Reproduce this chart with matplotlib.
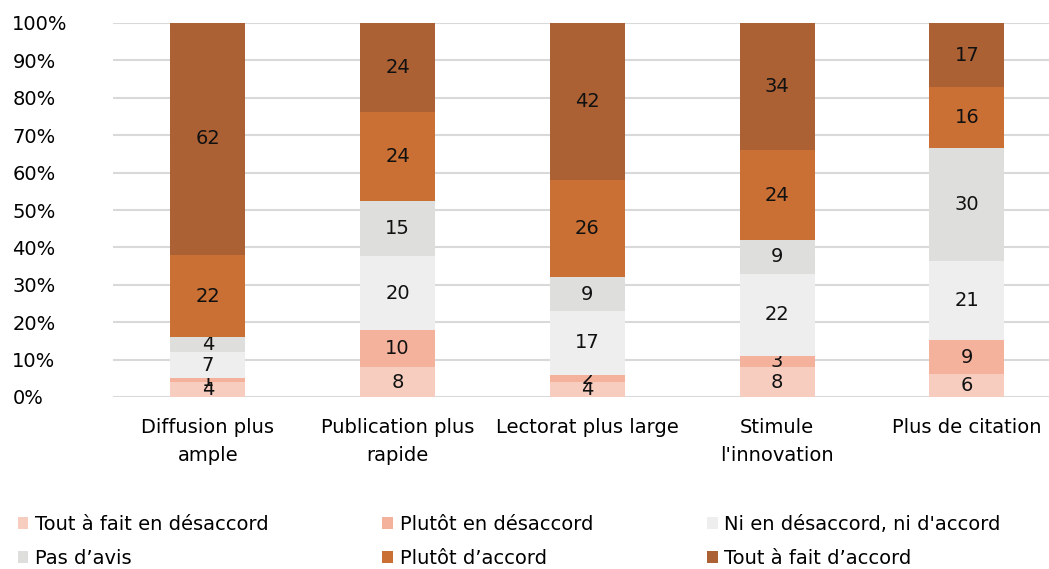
import numpy as np
import matplotlib.pyplot as plt

plt.rcParams['font.family'] = ['DejaVu Sans']

CATEGORIES = ['Diffusion plus\nample', 'Publication plus\nrapide', 'Lectorat plus large',
              'Stimule\nl\'innovation', 'Plus de citation']
SERIES = ['Tout à fait en désaccord', 'Plutôt en désaccord', "Ni en désaccord, ni d'accord",
          'Pas d’avis', 'Plutôt d’accord', 'Tout à fait d’accord']
COLORS = ['#F7CDC0', '#F4B29C', '#EEEEEE', '#DEDEDC', '#CA7034', '#AC6135']

tout_desaccord = [4, 8, 4, 8, 6]
plutot_desaccord = [1, 10, 2, 3, 9]
ni_ni = [7, 20, 17, 22, 21]
pas_avis = [4, 15, 9, 9, 30]
plutot_accord = [22, 24, 26, 24, 16]
tout_accord = [62, 24, 42, 34, 17]

values = np.array([tout_desaccord, plutot_desaccord, ni_ni, pas_avis, plutot_accord, tout_accord], dtype=float)
shares = values / values.sum(axis=0) * 100

FS = 14

fig = plt.figure(figsize=(10.49, 5.69), dpi=100)
ax = fig.add_axes([113 / 1049, 1 - 397 / 569, 936 / 1049, 374 / 569])

x = np.arange(len(CATEGORIES))
bottom = np.zeros(len(CATEGORIES))
handles = []
for i in range(len(SERIES)):
    bars = ax.bar(x, shares[i], 0.395, bottom=bottom, color=COLORS[i], label=SERIES[i], zorder=3)
    ax.bar_label(bars, labels=[str(int(v)) for v in values[i]], label_type='center',
                 fontsize=FS, color='#111111')
    handles.append(bars)
    bottom += shares[i]

ax.set_ylim(0, 100)
ax.set_xlim(-0.5, -0.5 + 936 / 189.75)
ax.set_yticks(range(0, 101, 10))
ax.set_yticklabels([f'{v}%' for v in range(0, 101, 10)], fontsize=FS)
ax.set_xticks(x)
ax.set_xticklabels(CATEGORIES, fontsize=FS, linespacing=1.6)
ax.tick_params(axis='both', length=0)
ax.tick_params(axis='y', pad=72.5)
ax.tick_params(axis='x', pad=15)
for lbl in ax.get_yticklabels():
    lbl.set_horizontalalignment('left')
ax.grid(axis='y', color='#D9D9D9', linewidth=1.5, zorder=0)
for s in ax.spines.values():
    s.set_visible(False)

order = [0, 3, 1, 4, 2, 5]
fig.legend([handles[i] for i in order], [SERIES[i] for i in order], ncol=3,
           loc='lower left', bbox_to_anchor=(0.0, -0.029), frameon=False, fontsize=FS,
           handlelength=0.55, handleheight=0.55, handletextpad=0.35, columnspacing=5.85,
           labelspacing=0.78)

fig.savefig('out.png', dpi=100)
